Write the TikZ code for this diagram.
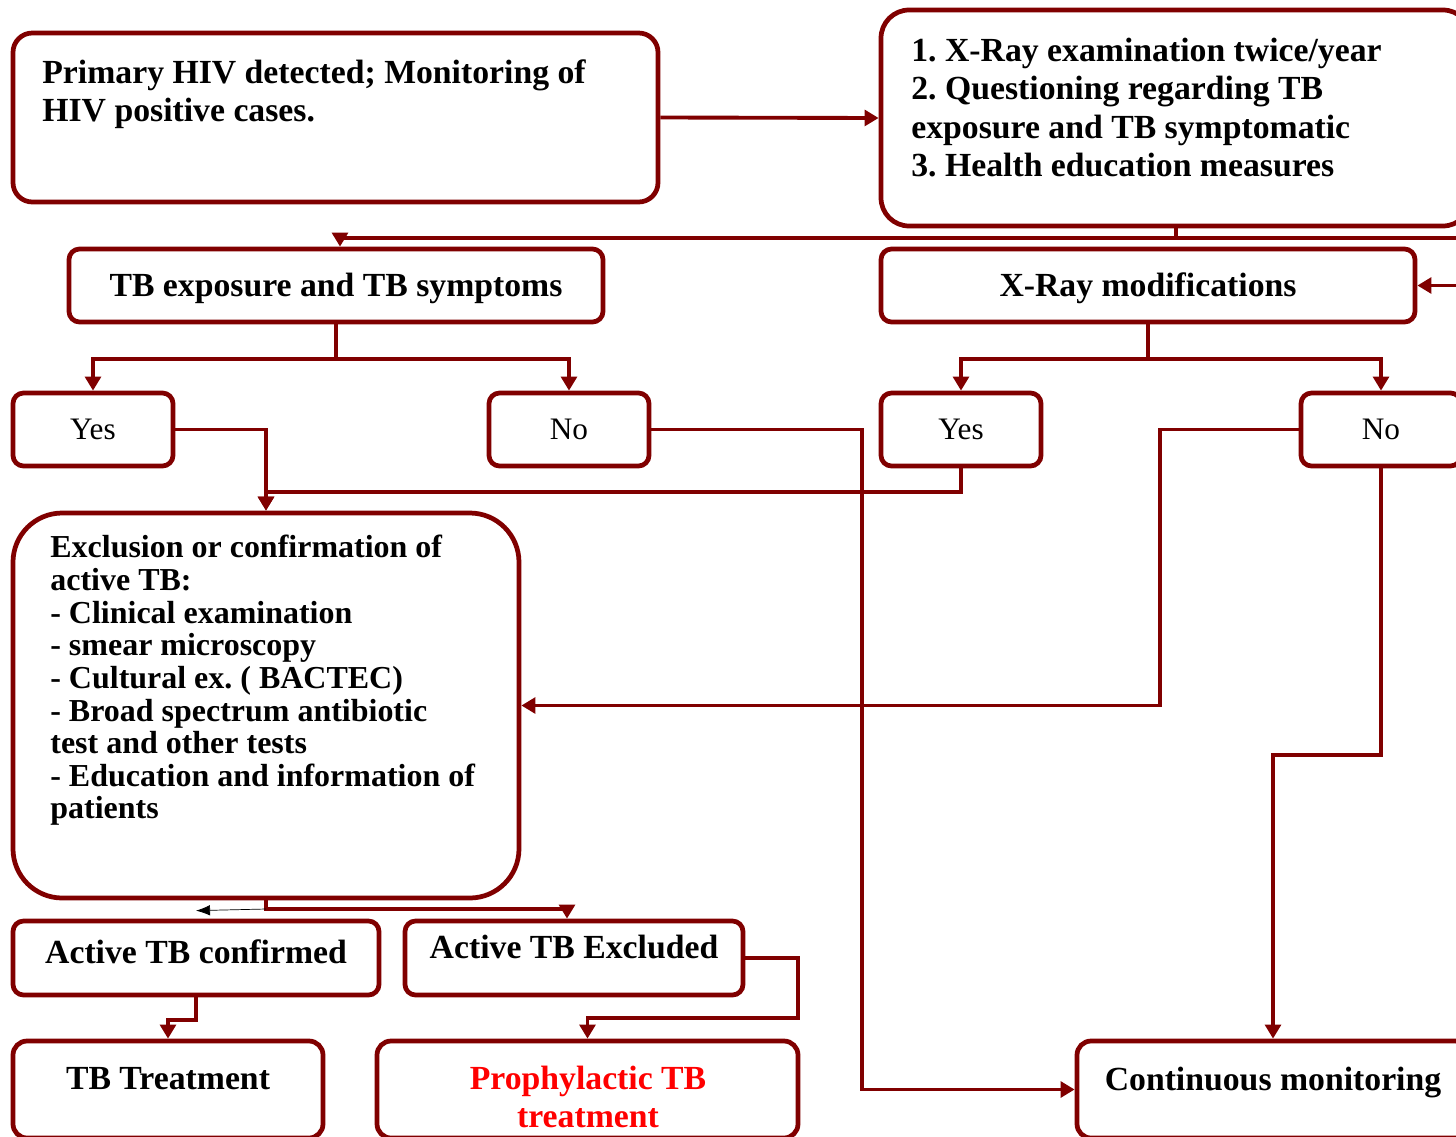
\documentclass[tikz,border=0pt]{standalone}
\usepackage{fontspec}
\setmainfont{Liberation Serif}
\usepackage{xcolor}
\usetikzlibrary{positioning,arrows.meta,calc}
\definecolor{BOX_RED}{HTML}{800000}
\definecolor{TXT_RED}{HTML}{FF0000}
\frenchspacing
\tikzset{wh/.style 2 args={minimum width=#1*0.02cm, minimum height=#2*0.02cm}}
\tikzstyle{box} = [rectangle, draw=BOX_RED, line width=2.7pt, fill=white, inner sep=0pt, rounded corners=6pt]
\tikzstyle{big_box} = [box, rounded corners=11pt]
\tikzstyle{head_box} = [box, font=\bfseries\fontsize{19.2}{21.5}\selectfont, text height=16.5pt, text depth=4.2pt]
\tikzstyle{choice} = [box, font=\fontsize{17.8}{20}\selectfont]
\tikzstyle{txt} = [inner sep=0pt, anchor=north west, align=left, font=\bfseries\fontsize{19.2}{21.7}\selectfont]
\tikzstyle{line} = [draw=BOX_RED, line width=2.2pt, -{Triangle[length=8pt,width=9pt]}]

\begin{document}
\begin{tikzpicture}[x=0.02cm, y=-0.02cm]
      \path[use as bounding box, clip] (0,0) rectangle (1456,1136);

      %%%%%%%%%%%%%%%%%%%%%%%%%%%%%%%%%%%%%%%%%%%%%%%%%
      % TOP ROW
      %%%%%%%%%%%%%%%%%%%%%%%%%%%%%%%%%%%%%%%%%%%%%%%%%
      \node[big_box, wh={645}{169}] (HIV) at (335.5,117.5) {};
      \node[txt] (HIVtxt) at (42,59) {Primary HIV detected; Monitoring of\\HIV positive cases.};

      \node[big_box, rounded corners=16pt, wh={590}{216}] (PLAN) at (1176,118) {};
      \node[txt] (PLANtxt) at (911,38) {1. X-Ray examination twice/year\\2. Questioning regarding TB\\exposure and TB symptomatic\\3. Health education measures};

      % second row
      \node[head_box, wh={534}{73}] (EXPO) at (336,285.5) {TB exposure and TB symptoms};
      \node[head_box, wh={534}{73}] (XRAY) at (1148,285.5) {X-Ray modifications};

      % yes / no
      \node[choice, wh={160}{73}] (YES1) at (93,429.5)   {Yes};
      \node[choice, wh={160}{73}] (NO1)  at (569,429.5)  {No};
      \node[choice, wh={160}{73}] (YES2) at (961,429.5)  {Yes};
      \node[choice, wh={160}{73}] (NO2)  at (1381,429.5) {No};

      %%%%%%%%%%%%%%%%%%%%%%%%%%%%%%%%%%%%%%%%%%%%%%%%%
      % EXCLUSION
      %%%%%%%%%%%%%%%%%%%%%%%%%%%%%%%%%%%%%%%%%%%%%%%%%
      \node[box, rounded corners=28pt, wh={506}{385}] (EXCL) at (266,705.5) {};
      \node[txt, font=\bfseries\fontsize{18.2}{18.57}\selectfont] (EXCLtxt) at (50,535) {Exclusion or confirmation of\\active TB:\\- Clinical examination\\- smear microscopy\\- Cultural ex. ( BACTEC)\\- Broad spectrum antibiotic\\test and other tests\\- Education and information of\\patients};

      \node[head_box, wh={366}{74}, text depth=10.7pt] (CONF) at (196,958) {Active TB confirmed};
      \node[head_box, wh={338}{74}, text depth=15.5pt] (EXCD) at (574,958) {Active TB Excluded};

      % bottom row
      \node[box, rounded corners=8pt, wh={310}{97}] (TREAT) at (168,1089.5) {};
      \node[txt, anchor=north, align=center] (TREATtxt) at (168,1067) {TB Treatment};
      \node[box, rounded corners=8pt, wh={421}{97}] (PROPH) at (587.5,1089.5) {};
      \node[txt, anchor=north, align=center, text=TXT_RED] (PROPHtxt) at (588,1066) {Prophylactic TB\\treatment};
      \node[box, rounded corners=8pt, wh={392}{97}] (MONIT) at (1273,1089.5) {};
      \node[txt, anchor=north, align=center] (MONITtxt) at (1273,1067) {Continuous monitoring};

      %%%%%%%%%%%%%%%%%%%%%%%%%%%%%%%%%%%%%%%%%%%%%%%%%
      % CONNECTORS
      %%%%%%%%%%%%%%%%%%%%%%%%%%%%%%%%%%%%%%%%%%%%%%%%%
      \coordinate (SPLIT) at (1176,238);
      \coordinate (RIGHT) at (1475,238);
      \draw[line] (HIV.east) -- (PLAN.west);
      \draw[line] (PLAN.south) -- (SPLIT) -| ([xshift=0.08cm]EXPO.north);
      \draw[line] (SPLIT) -- (RIGHT) |- (XRAY.east);

      \draw[line] (EXPO.south) -- ++(0,35) -| (YES1.north);
      \draw[line] (EXPO.south) -- ++(0,35) -| (NO1.north);
      \draw[line] (XRAY.south) -- ++(0,35) -| (YES2.north);
      \draw[line] (XRAY.south) -- ++(0,35) -| (NO2.north);

      \draw[line] (YES1.east) -| (EXCL.north);
      \draw[line] (YES2.south) -- ++(0,24) -| (EXCL.north);

      \coordinate (NO1R) at (862,429.5);
      \draw[line] (NO1.east) -- (NO1R) |- (MONIT.west);
      \coordinate (NO2L) at (1160,429.5);
      \draw[line] (NO2.west) -- (NO2L) |- (EXCL.east);
      \draw[line] (NO2.south) -- ++(0,287) -| (MONIT.north);

      \coordinate (EXCLS) at (266,909);
      \draw[line] (EXCL.south) -- (EXCLS) -| ([xshift=-0.14cm]EXCD.north);
      \draw[thin, -{Latex[length=8pt,width=6pt]}] (EXCLS) -- ([yshift=0.16cm]CONF.north);

      \draw[line] (CONF.south) -- ++(0,23) -| (TREAT.north);
      \coordinate (EXCDR) at (798,1018);
      \draw[line] (EXCD.east) -| (EXCDR) -| (PROPH.north);
\end{tikzpicture}
\end{document}
